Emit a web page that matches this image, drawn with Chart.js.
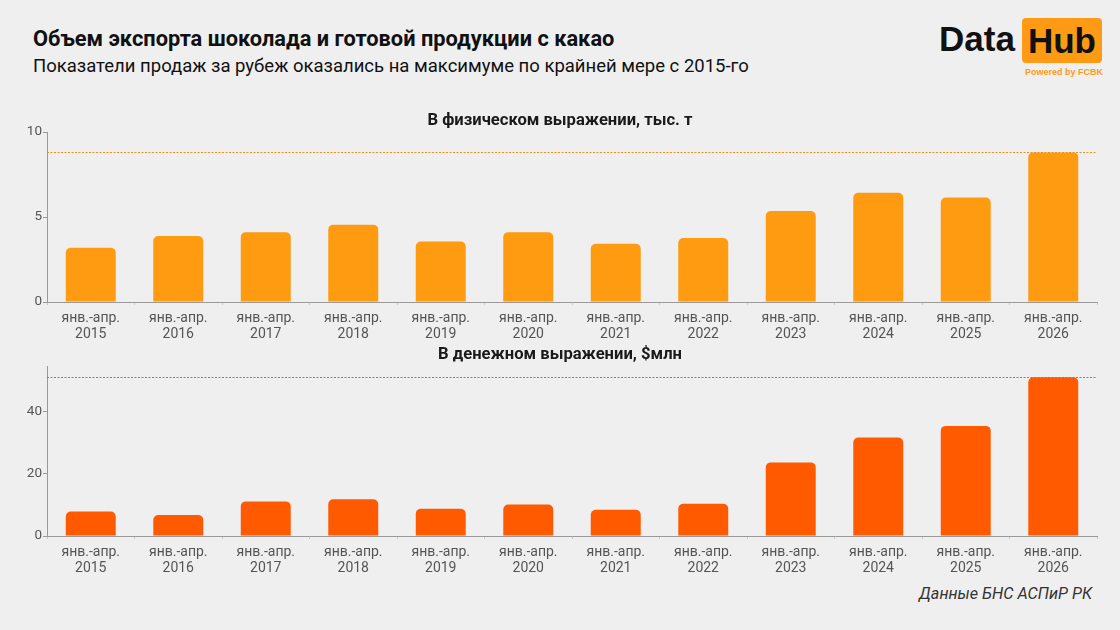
<!DOCTYPE html>
<html lang="ru">
<head>
<meta charset="utf-8">
<script src="https://cdn.jsdelivr.net/npm/chart.js@4/dist/chart.umd.min.js"></script>
<style>
  html, body { margin: 0; padding: 0; }
  body { width: 1120px; height: 630px; background: #efefef; position: relative; overflow: hidden; font-family: Roboto, sans-serif; }
  .title { position: absolute; left: 33px; top: 26px; font-size: 21.8px; font-weight: 700; color: #111; }
  .subtitle { position: absolute; left: 33px; top: 55px; font-size: 18.5px; color: #111; }
  .sub { position: absolute; left: 0; width: 1120px; text-align: center; font-size: 16.6px; font-weight: 700; color: #1a1a1a; }
  .logo-data { position: absolute; left: 939px; top: 19px; font-family: "Liberation Sans", Arial, sans-serif; font-weight: 700; font-size: 35px; color: #111; }
  .logo-hub { position: absolute; left: 1022px; top: 18px; width: 80px; height: 45px; background: #ff9a14; border-radius: 4px;
              font-family: "Liberation Sans", Arial, sans-serif; font-weight: 700; font-size: 35px; color: #111; text-align: center; line-height: 46px; }
  .logo-pw { position: absolute; left: 1025px; top: 67px; font-family: "Liberation Sans", Arial, sans-serif; font-weight: 700; font-size: 9px; color: #ff9a14; }
  .source { position: absolute; right: 28px; top: 584px; font-size: 16.2px; font-style: italic; color: #333; }
  canvas { position: absolute; left: 0; }
  #tons { top: 105px; }
  #usd { top: 339px; }
</style>
</head>
<body>
<div class="title">Объем экспорта шоколада и готовой продукции с какао</div>
<div class="subtitle">Показатели продаж за рубеж оказались на максимуме по крайней мере с 2015-го</div>
<div class="logo-data">Data</div>
<div class="logo-hub">Hub</div>
<div class="logo-pw">Powered by FCBK</div>
<canvas id="tons" width="1120" height="240"></canvas>
<canvas id="usd" width="1120" height="240"></canvas>
<div class="sub" style="top:110px">В физическом выражении, тыс. т</div>
<div class="sub" style="top:344px">В денежном выражении, $млн</div>
<div class="source">Данные БНС АСПиР РК</div>

<script>
const period = 'янв.-апр.'
const years = [2015, 2016, 2017, 2018, 2019, 2020, 2021, 2022, 2023, 2024, 2025, 2026]
// тыс. т
const tonsValues = [3.19, 3.88, 4.11, 4.55, 3.56, 4.11, 3.42, 3.76, 5.35, 6.42, 6.14, 8.80]
// $ млн
const usdValues = [7.84, 6.75, 11.1, 11.76, 8.7, 10.1, 8.4, 10.35, 23.6, 31.6, 35.3, 50.9]
const tonsTicks = [0, 5, 10]
const usdTicks = [0, 20, 40]

const labels = years.map(y => [period, String(y)])

// dotted line at the maximum value
const maxLine = {
  id: 'maxLine',
  afterDatasetsDraw(chart, args, opts) {
    const { ctx, chartArea, scales } = chart
    const vals = chart.data.datasets[0].data
    const y = Math.round(scales.y.getPixelForValue(Math.max(...vals))) + 0.5
    ctx.save()
    ctx.strokeStyle = opts.color
    ctx.lineWidth = 1
    ctx.setLineDash([2, 1.5])
    ctx.beginPath()
    ctx.moveTo(chartArea.left, y)
    ctx.lineTo(chartArea.right, y)
    ctx.stroke()
    ctx.restore()
  }
}

function makeChart(id, values, color, lineColor, yMax, tickValues) {
  const ctx = document.getElementById(id)
  return new Chart(ctx, {
    type: 'bar',
    data: {
      labels: labels,
      datasets: [{
        data: values,
        backgroundColor: color,
        borderRadius: { topLeft: 5, topRight: 5 },
        borderSkipped: 'start',
        categoryPercentage: 1,
        barPercentage: 0.571
      }]
    },
    plugins: [maxLine],
    options: {
      responsive: false,
      animation: false,
      layout: { padding: { left: 0, right: 23, top: 27, bottom: 0 } },
      scales: {
        x: {
          grid: { drawOnChartArea: false, drawTicks: true, tickLength: 3, color: '#c8c8c8' },
          border: { color: '#999', width: 1 },
          ticks: { color: '#555', font: { family: 'Roboto', size: 14, lineHeight: 1.15 }, padding: 5, maxRotation: 0, autoSkip: false },
          afterFit(scale) { scale.height = 43 }
        },
        y: {
          min: 0,
          max: yMax,
          grid: { drawOnChartArea: false, drawTicks: true, tickLength: 4, color: '#999' },
          border: { color: '#999', width: 1 },
          ticks: { color: '#555', font: { family: 'Roboto', size: 13.5 }, padding: 1 },
          afterBuildTicks(scale) { scale.ticks = tickValues.map(v => ({ value: v })) },
          afterFit(scale) { scale.width = 47 }
        }
      },
      plugins: {
        legend: { display: false },
        tooltip: { enabled: false },
        title: { display: false },
        maxLine: { color: lineColor }
      }
    }
  })
}

makeChart('tons', tonsValues, '#ff9b10', '#e8921a', 10, tonsTicks)
makeChart('usd', usdValues, '#ff5a00', '#ff5a00', 54.5, usdTicks)
</script>
</body>
</html>
